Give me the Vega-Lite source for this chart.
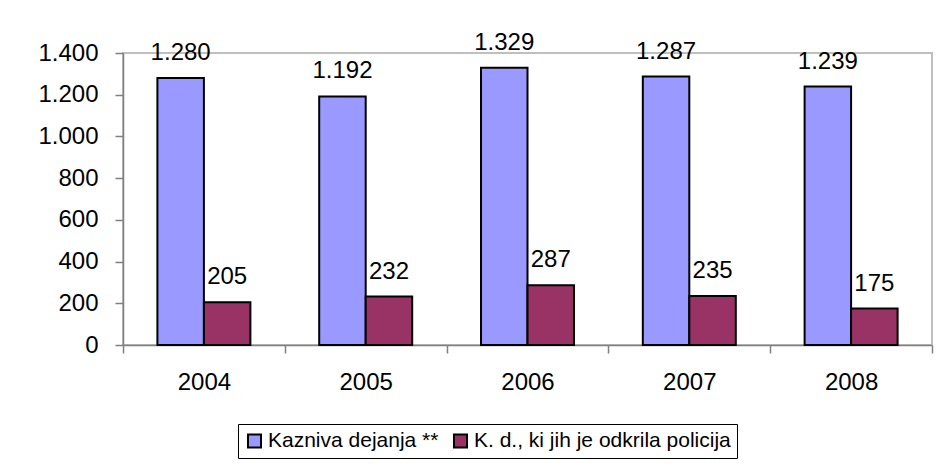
{
  "$schema": "https://vega.github.io/schema/vega-lite/v6.json",
  "autosize": "none",
  "width": 809,
  "height": 292,
  "padding": {"left": 123, "top": 53, "right": 10, "bottom": 120},
  "background": "white",
  "config": {
    "font": "Liberation Sans",
    "view": {"stroke": "#BFBFBF", "strokeWidth": 2},
    "locale": {
      "number": {"decimal": ",", "thousands": ".", "grouping": [3], "currency": ["", " €"]}
    }
  },
  "data": {
    "values": [
      {"year": "2004", "series": "Kazniva dejanja **", "value": 1280},
      {"year": "2004", "series": "K. d., ki jih je odkrila policija", "value": 205},
      {"year": "2005", "series": "Kazniva dejanja **", "value": 1192},
      {"year": "2005", "series": "K. d., ki jih je odkrila policija", "value": 232},
      {"year": "2006", "series": "Kazniva dejanja **", "value": 1329},
      {"year": "2006", "series": "K. d., ki jih je odkrila policija", "value": 287},
      {"year": "2007", "series": "Kazniva dejanja **", "value": 1287},
      {"year": "2007", "series": "K. d., ki jih je odkrila policija", "value": 235},
      {"year": "2008", "series": "Kazniva dejanja **", "value": 1239},
      {"year": "2008", "series": "K. d., ki jih je odkrila policija", "value": 175}
    ]
  },
  "encoding": {
    "x": {
      "field": "year",
      "type": "nominal",
      "scale": {"paddingInner": 0, "paddingOuter": 0},
      "axis": {
        "title": null,
        "labelAngle": 0,
        "labelFontSize": 24,
        "labelColor": "black",
        "labelPadding": 17,
        "tickBand": "extent",
        "tickSize": 8,
        "tickColor": "#808080",
        "tickWidth": 1.5,
        "domainColor": "#808080",
        "domainWidth": 1.5
      }
    },
    "xOffset": {
      "field": "series",
      "type": "nominal",
      "sort": ["Kazniva dejanja **", "K. d., ki jih je odkrila policija"],
      "scale": {"paddingOuter": 0.74, "paddingInner": 0}
    },
    "y": {
      "field": "value",
      "type": "quantitative",
      "scale": {"domain": [0, 1400], "nice": false},
      "axis": {
        "title": null,
        "values": [0, 200, 400, 600, 800, 1000, 1200, 1400],
        "format": ",.0f",
        "labelFontSize": 24,
        "labelColor": "black",
        "labelPadding": 17,
        "tickSize": 8,
        "tickColor": "#808080",
        "tickWidth": 1.5,
        "domainColor": "#808080",
        "domainWidth": 1.5,
        "grid": false
      }
    }
  },
  "layer": [
    {
      "mark": {"type": "bar", "stroke": "black", "strokeWidth": 2},
      "encoding": {
        "color": {
          "field": "series",
          "type": "nominal",
          "sort": ["Kazniva dejanja **", "K. d., ki jih je odkrila policija"],
          "scale": {"range": ["#9999FF", "#993366"]},
          "legend": {
            "title": null,
            "orient": "none",
            "direction": "horizontal",
            "legendX": 115,
            "legendY": 371,
            "labelFontSize": 21,
            "labelColor": "black",
            "labelLimit": 400,
            "symbolType": "square",
            "symbolSize": 170,
            "symbolStrokeColor": "black",
            "symbolStrokeWidth": 2,
            "symbolOpacity": 1,
            "columnPadding": 10,
            "labelOffset": 3,
            "strokeColor": "black",
            "padding": 6,
            "symbolOffset": 0
          }
        }
      }
    },
    {
      "mark": {"type": "text", "baseline": "alphabetic", "dy": -18, "fontSize": 24, "color": "black"},
      "encoding": {
        "text": {"field": "value", "type": "quantitative", "format": ",.0f"},
        "color": {"value": "black"}
      }
    }
  ]
}
